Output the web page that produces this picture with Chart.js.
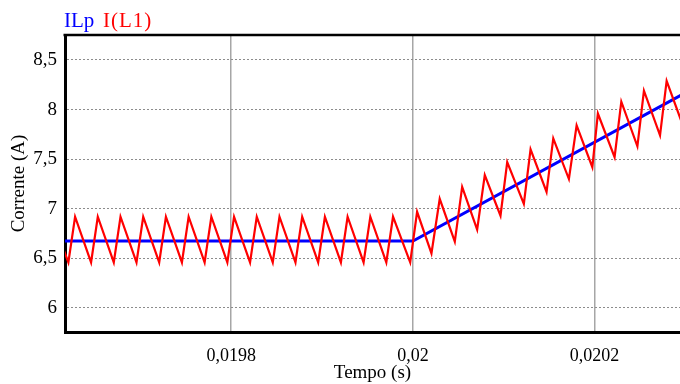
<!DOCTYPE html>
<html><head><meta charset="utf-8">
<script src="https://cdn.jsdelivr.net/npm/chart.js@4"></script>
<style>html,body{margin:0;padding:0;background:#fff}#wrap{width:680px;height:384px}</style>
</head><body><div id="wrap"><canvas id="c" width="680" height="384"></canvas></div>
<script>
// ---- data ----
const seriesNames = ['ILp', 'I(L1)'];
const redTime = [
  0.0196150,
  0.0196207, 0.0196281, 0.0196457, 0.0196531, 0.0196707, 0.0196781,
  0.0196957, 0.0197031, 0.0197207, 0.0197281, 0.0197457, 0.0197531,
  0.0197707, 0.0197781, 0.0197957, 0.0198031, 0.0198207, 0.0198281,
  0.0198457, 0.0198531, 0.0198707, 0.0198781, 0.0198957, 0.0199031,
  0.0199207, 0.0199281, 0.0199457, 0.0199531, 0.0199707, 0.0199781,
  0.0199970, 0.0200046, 0.0200204, 0.0200295, 0.0200461, 0.0200542,
  0.0200707, 0.0200791, 0.0200964, 0.0201038, 0.0201221, 0.0201295,
  0.0201471, 0.0201545, 0.0201717, 0.0201802, 0.0201975, 0.0202036,
  0.0202220, 0.0202294, 0.0202471, 0.0202543, 0.0202720, 0.0202793,
  0.0202960
];
const redCurrent = [
  6.60,
  6.46, 6.92, 6.46, 6.92, 6.46, 6.92,
  6.46, 6.92, 6.46, 6.92, 6.46, 6.92,
  6.46, 6.92, 6.46, 6.92, 6.46, 6.92,
  6.46, 6.92, 6.46, 6.92, 6.46, 6.92,
  6.46, 6.92, 6.46, 6.92, 6.46, 6.92,
  6.46, 6.97, 6.55, 7.10, 6.67, 7.22,
  6.79, 7.34, 6.93, 7.47, 7.05, 7.60,
  7.17, 7.71, 7.30, 7.84, 7.42, 7.96,
  7.52, 8.08, 7.63, 8.19, 7.74, 8.29,
  7.87
];
const blueTime = [0.019610, 0.020000, 0.020300];
const blueCurrent = [6.675, 6.675, 8.17];
const xTicks = [0.0198, 0.02, 0.0202];
const xTickLabels = ['0,0198', '0,02', '0,0202'];
const yTicks = [6, 6.5, 7, 7.5, 8, 8.5];
const yTickLabels = ['6', '6,5', '7', '7,5', '8', '8,5'];

const FONT = 'Liberation Serif, Times New Roman, serif';
const pts = (t, v) => t.map((x, i) => ({x: x, y: v[i]}));

const frame = {
  id: 'frame',
  afterDraw(chart) {
    const {ctx, chartArea: a} = chart;
    ctx.save();
    ctx.strokeStyle = '#000';
    ctx.lineWidth = 2.5;
    ctx.beginPath();
    ctx.moveTo(a.left - 1.5, a.top);
    ctx.lineTo(a.right, a.top);
    ctx.stroke();
    ctx.font = '21px ' + FONT;
    ctx.textBaseline = 'alphabetic';
    ctx.fillStyle = '#0000ff';
    ctx.fillText(seriesNames[0], 64, 27);
    ctx.fillStyle = '#ff0000';
    try { ctx.letterSpacing = '1px'; } catch (e) {}
    ctx.fillText(seriesNames[1], 103, 27);
    ctx.restore();
  }
};

new Chart(document.getElementById('c'), {
  type: 'line',
  data: {
    datasets: [
      {label: seriesNames[1], data: pts(redTime, redCurrent), borderColor: '#ff0000', borderWidth: 2.2, pointRadius: 0, tension: 0, fill: false},
      {label: seriesNames[0], data: pts(blueTime, blueCurrent), borderColor: '#0000ff', borderWidth: 3, pointRadius: 0, tension: 0, fill: false}
    ]
  },
  options: {
    responsive: false,
    animation: false,
    devicePixelRatio: 1,
    layout: {padding: {top: 35, left: 0, right: 0, bottom: 0}},
    plugins: {legend: {display: false}, tooltip: {enabled: false}},
    scales: {
      x: {
        type: 'linear', min: 0.019617, max: 0.020294,
        afterBuildTicks: s => { s.ticks = xTicks.map(v => ({value: v})); },
        afterFit: s => { s.height = 52; },
        ticks: {callback: (v, i) => xTickLabels[i], font: {family: FONT, size: 18}, color: '#000', padding: 13, maxRotation: 0, autoSkip: false},
        grid: {color: '#a6a6a6', lineWidth: 1.5, drawTicks: false},
        border: {color: '#000', width: 3},
        title: {display: true, text: 'Tempo (s)', font: {family: FONT, size: 19}, color: '#000', padding: {top: 0, bottom: 0}}
      },
      y: {
        type: 'linear', min: 5.758, max: 8.752,
        afterBuildTicks: s => { s.ticks = yTicks.map(v => ({value: v})); },
        afterFit: s => { s.width = 65; },
        ticks: {callback: (v, i) => yTickLabels[i], font: {family: FONT, size: 19}, color: '#000', padding: 8},
        grid: {color: '#8c8c8c', lineWidth: 1, drawTicks: false},
        border: {color: '#000', width: 3, dash: [2, 2]},
        title: {display: true, text: 'Corrente (A)', font: {family: FONT, size: 19}, color: '#000', padding: {top: 8, bottom: 0}}
      }
    }
  },
  plugins: [frame]
});
</script>
</body></html>
